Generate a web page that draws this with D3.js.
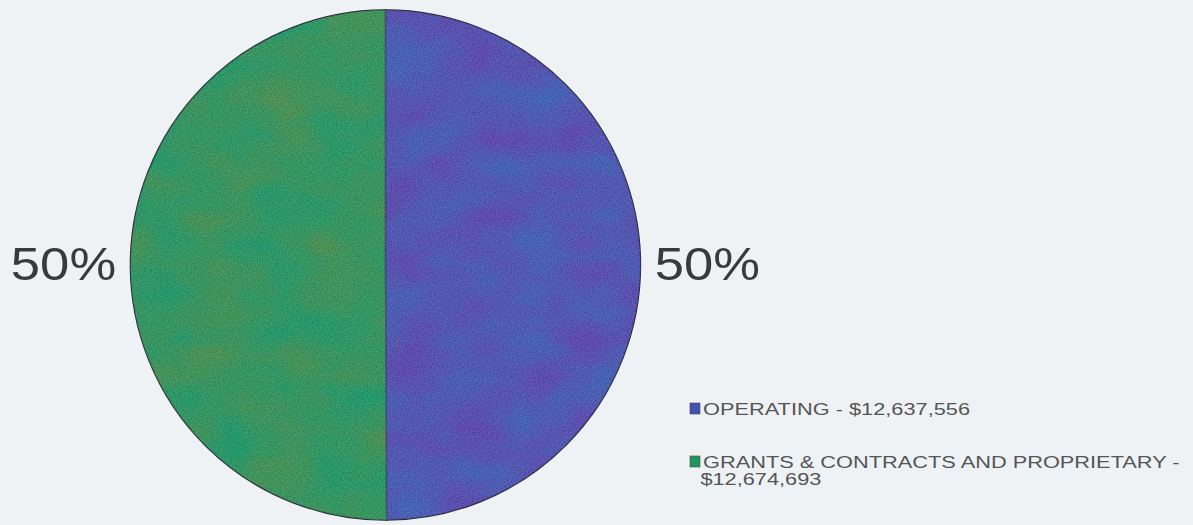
<!DOCTYPE html>
<html>
<head>
<meta charset="utf-8">
<script src="https://cdn.jsdelivr.net/npm/d3@7/dist/d3.min.js"></script>
<style>
  html, body { margin: 0; padding: 0; background: #eef2f5; }
  svg { display: block; }
</style>
</head>
<body>
<svg id="chart" width="1193" height="525"></svg>
<script>
// Budget split by fund type
const categories = ["OPERATING", "GRANTS & CONTRACTS AND PROPRIETARY"];
const amounts = [12637556, 12674693];
const sliceColors = ["#4452b0", "#20965c"];
const legendLines = [
  ["OPERATING - $12,637,556"],
  ["GRANTS & CONTRACTS AND PROPRIETARY -", "$12,674,693"]
];

const svg = d3.select("#chart");
const W = 1193, H = 525;
const cx = 385.5, cy = 265, R = 255;

svg.append("rect").attr("width", W).attr("height", H).attr("fill", "#eef2f5");

const defs = svg.append("defs");

// blotchy colour variation inside each slice (blue<->purple, teal<->olive)
const mottleMatrices = [
  "0.325 0 0 0 0.1525  -0.325 0 0 0 0.4675  -0.1 0 0 0 0.77  0 0 0 0 0.55",
  "0.5 0 0 0 -0.05  -0.075 0 0 0 0.6425  -0.275 0 0 0 0.4625  0 0 0 0 0.55"
];
mottleMatrices.forEach((m, i) => {
  const f = defs.append("filter").attr("id", "mottle" + i)
    .attr("filterUnits", "userSpaceOnUse")
    .attr("color-interpolation-filters", "sRGB")
    .attr("x", cx - R).attr("y", cy - R).attr("width", 2 * R).attr("height", 2 * R);
  f.append("feTurbulence").attr("type", "fractalNoise")
    .attr("baseFrequency", "0.016 0.026").attr("numOctaves", 3).attr("seed", 11 + i).attr("result", "n");
  f.append("feColorMatrix").attr("in", "n").attr("type", "matrix").attr("values", m);
});

// fine speckle
const fg = defs.append("filter").attr("id", "grain")
  .attr("filterUnits", "userSpaceOnUse")
  .attr("color-interpolation-filters", "sRGB")
  .attr("x", cx - R).attr("y", cy - R).attr("width", 2 * R).attr("height", 2 * R);
fg.append("feTurbulence").attr("type", "fractalNoise")
  .attr("baseFrequency", "0.8").attr("numOctaves", 1).attr("seed", 3).attr("result", "g");
fg.append("feColorMatrix").attr("in", "g").attr("type", "matrix")
  .attr("values", "1.6 0 0 0 -0.3  1.6 0 0 0 -0.3  1.6 0 0 0 -0.2  0 0 0 0 0.16");

defs.append("clipPath").attr("id", "pieClip")
  .append("circle").attr("cx", cx).attr("cy", cy).attr("r", R);

const pie = d3.pie().sort(null).value(d => d)(amounts);
const arc = d3.arc().innerRadius(0).outerRadius(R);

pie.forEach((d, i) => {
  defs.append("clipPath").attr("id", "sliceClip" + i)
    .append("path").attr("d", arc(d)).attr("transform", `translate(${cx},${cy})`);
});

const g = svg.append("g").attr("transform", `translate(${cx},${cy})`);
g.selectAll("path.slice").data(pie).join("path")
  .attr("class", "slice")
  .attr("d", arc)
  .attr("fill", (d, i) => sliceColors[i]);

pie.forEach((d, i) => {
  svg.append("g").attr("clip-path", `url(#sliceClip${i})`)
    .append("rect")
    .attr("x", cx - R).attr("y", cy - R).attr("width", 2 * R).attr("height", 2 * R)
    .attr("filter", `url(#mottle${i})`).attr("fill", "#fff");
});
svg.append("g").attr("clip-path", "url(#pieClip)")
  .append("rect")
  .attr("x", cx - R).attr("y", cy - R).attr("width", 2 * R).attr("height", 2 * R)
  .attr("filter", "url(#grain)").attr("fill", "#fff");

// slice borders
g.selectAll("path.edge").data(pie).join("path")
  .attr("class", "edge")
  .attr("d", arc)
  .attr("fill", "none")
  .attr("stroke", "#262636")
  .attr("stroke-width", 1.5);

// percentage labels outside each slice
const total = d3.sum(amounts);
const fmtPct = d3.format(".0%");
const labelArc = d3.arc().innerRadius(R + 67).outerRadius(R + 67);
g.selectAll("text.pct").data(pie).join("text")
  .attr("class", "pct")
  .attr("transform", d => `translate(${labelArc.centroid(d)[0]},15) scale(1.12,1)`)
  .attr("text-anchor", "middle")
  .attr("font-family", "Liberation Sans, Arial, sans-serif")
  .attr("font-size", 47)
  .attr("fill", "#3a3a3a")
  .text(d => fmtPct(Math.round(d.value / total * 100) / 100));

// legend
const leg = svg.append("g").attr("transform", "translate(690,403)");
const rowY = [0, 53];
const item = leg.selectAll("g.item").data(categories).join("g")
  .attr("class", "item")
  .attr("transform", (d, i) => `translate(0,${rowY[i]})`);
item.append("rect").attr("width", 10).attr("height", 11)
  .attr("fill", (d, i) => sliceColors[i]).attr("stroke", "#4a4a4a").attr("stroke-width", 0.6);
item.append("text")
  .attr("transform", "translate(13,12) scale(1.32,1)")
  .attr("font-family", "Liberation Sans, Arial, sans-serif")
  .attr("font-size", 16.5)
  .attr("fill", "#555")
  .selectAll("tspan").data((d, i) => legendLines[i]).join("tspan")
  .attr("x", (d, j) => j === 0 ? 0 : -2)
  .attr("dy", (d, j) => j === 0 ? 0 : 17.5)
  .text(d => d);
</script>
</body>
</html>
